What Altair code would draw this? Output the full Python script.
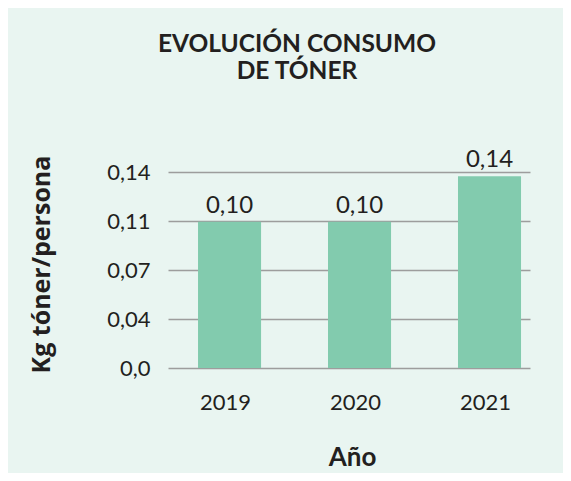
import altair as alt
import pandas as pd

years = ["2019", "2020", "2021"]
values = [0.1045, 0.1045, 0.137]
tick_values = [0, 0.035, 0.07, 0.105, 0.14]
tick_labels = ["0,0", "0,04", "0,07", "0,11", "0,14"]

df = pd.DataFrame({"year": years, "value": values})

FONT = "Lato"
TXT = "#231f20"

label_expr = "[" + ",".join(f"'{t}'" for t in tick_labels) + "][round(datum.value/0.035)]"

x = alt.X(
    "year:N",
    sort=years,
    scale=alt.Scale(paddingInner=0.515, paddingOuter=0.15, align=0.77),
    axis=alt.Axis(
        title="Año",
        labelAngle=0,
        labelFontSize=22,
        labelFont=FONT,
        labelColor=TXT,
        labelPadding=24,
        labelOffset=-4,
        ticks=False,
        domain=False,
        titleFont=FONT,
        titleFontSize=26,
        titleFontWeight="bold",
        titleColor=TXT,
        titleX=184,
        titleY=89,
        titleBaseline="middle",
        titleAlign="center",
    ),
)

y = alt.Y(
    "value:Q",
    scale=alt.Scale(domain=[0, 0.14], nice=False),
    axis=alt.Axis(
        title="Kg tóner/persona",
        values=tick_values,
        labelExpr=label_expr,
        labelFontSize=22,
        labelFont=FONT,
        labelColor=TXT,
        labelPadding=18,
        ticks=False,
        domain=False,
        grid=True,
        gridColor="#9d9d9d",
        gridWidth=1.5,
        titleFont="Open Sans",
        titleFontSize=25,
        titleFontWeight="bold",
        titleColor=TXT,
        titleAngle=270,
        titleX=-127,
        titleY=92,
        titleBaseline="middle",
        titleAlign="center",
    ),
)

bars = alt.Chart(df).mark_bar(color="#82cbae").encode(x=x, y=y)

labels = alt.Chart(df).transform_calculate(
    lab="replace(format(datum.value, '.2f'), '.', ',')"
).mark_text(
    font=FONT, fontSize=24, color=TXT, baseline="alphabetic", dy=-9
).encode(
    x=alt.X("year:N", sort=years),
    y=alt.Y("value:Q"),
    text="lab:N",
)

chart = (
    alt.layer(bars, labels)
    .properties(
        width=362,
        height=196,
        padding={"left": 160, "top": 164, "right": 33, "bottom": 105},
        autosize=alt.AutoSizeParams(type="none"),
        background="#e9f5f1",
        title=alt.Title(
            ["EVOLUCIÓN CONSUMO", "DE TÓNER"],
            font=FONT,
            fontSize=24.5,
            fontWeight="bold",
            color=TXT,
            anchor="middle",
            dx=-52,
            offset=64,
            lineHeight=27,
        ),
    )
    .configure_view(stroke=None)
)

chart.save("out.html", embed_options={"renderer": "svg", "actions": False})
